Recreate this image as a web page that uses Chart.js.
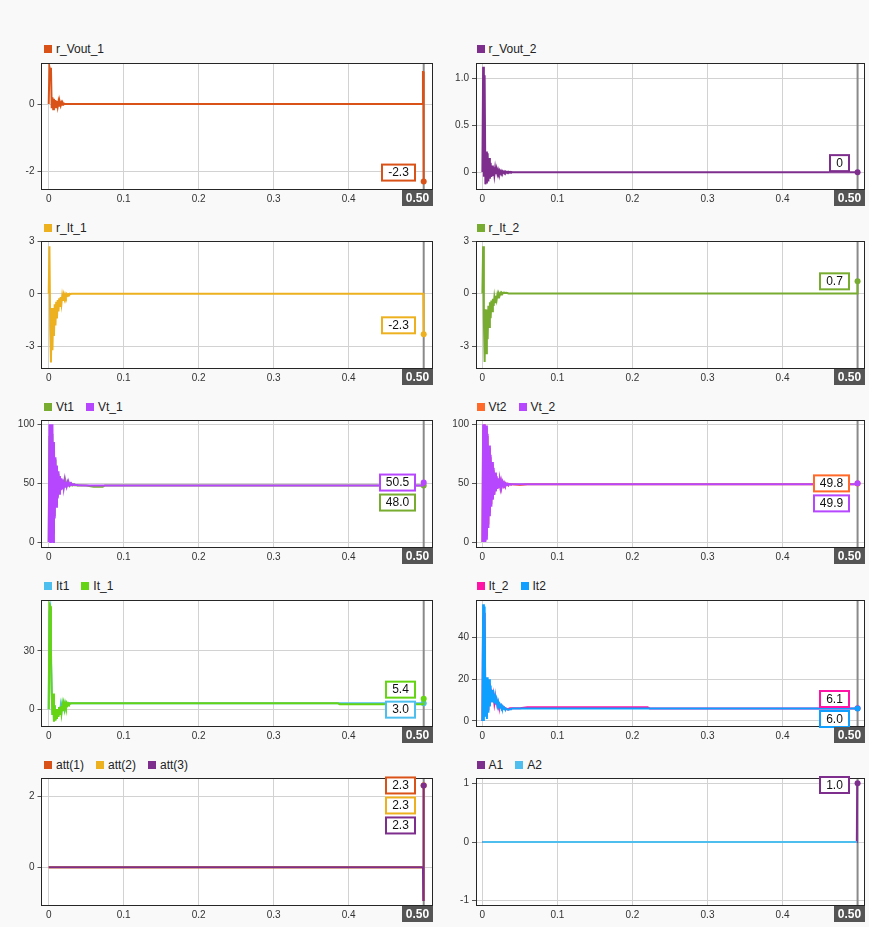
<!DOCTYPE html>
<html>
<head>
<meta charset="utf-8">
<script src="https://cdn.jsdelivr.net/npm/chart.js@4.4.0/dist/chart.umd.min.js"></script>
<style>
  body { margin: 0; background: #f9f9f9; font-family: "Liberation Sans", Arial, Helvetica, sans-serif; }
  #page { position: relative; width: 869px; height: 927px; overflow: hidden; }
  canvas { position: absolute; }
  .legend { position: absolute; font-size: 12px; line-height: 14px; color: #222; white-space: nowrap; }
  .legend .item { display: inline-block; margin-right: 12px; }
  .legend .sw { display: inline-block; width: 8px; height: 8px; margin-right: 4px; vertical-align: 0px; }
</style>
</head>
<body>
<div id="page"></div>
<script>
// --- time bases (s) ---
const tFast = [0, 0.001, 0.002, 0.003, 0.004, 0.005, 0.006, 0.007, 0.008, 0.009,
               0.010, 0.011, 0.012, 0.013, 0.014, 0.015, 0.016, 0.017, 0.018, 0.019,
               0.020, 0.021, 0.022, 0.023, 0.024, 0.025, 0.026, 0.027, 0.028, 0.029,
               0.030, 0.031, 0.032, 0.033, 0.034, 0.035, 0.036, 0.037, 0.038, 0.039,
               0.040];
const tSlow = [0.05, 0.06, 0.072, 0.075, 0.22, 0.223, 0.386, 0.388, 0.4985, 0.499, 0.4995, 0.5];
const tFull = tFast.concat(tSlow);
const tEdge = [0, 0.499, 0.4995, 0.5];
const tA2 = [0, 0.499];
const cursorT = 0.5;

// --- series values (fast part: 41 values, then slow part: 12 values) ---
const rVout1 = [0, 1.1, 1.0, 1.08, -0.12, 0.2, -0.15, 0.16, -0.12, 0.12,
  -0.09, 0.09, -0.07, 0.07, -0.05, 0.05, -0.04, 0.04, -0.02, 0.03,
  -0.01, 0.01, 0, 0, 0, 0, 0, 0, 0, 0,
  0, 0, 0, 0, 0, 0, 0, 0, 0, 0,
  0,
  0, 0, 0, 0, 0, 0, 0, 0, 0, 0.95, 0.95, -2.3];
const rVout2 = [0, 1.12, -0.05, 1.03, -0.13, 0.22, -0.12, 0.2, -0.1, 0.15,
  -0.07, 0.1, -0.05, 0.07, -0.04, 0.05, -0.03, 0.04, -0.02, 0.03,
  -0.015, 0.02, -0.01, 0.015, -0.01, 0.01, -0.008, 0.008, -0.006, 0.006,
  -0.005, 0.005, -0.004, 0.004, -0.003, 0.003, -0.003, 0.003, -0.002, 0.002,
  0,
  0, 0, 0, 0, 0, 0, 0, 0, 0, 0, 0, 0];
const rIt1 = [0, 2.7, -2.0, -3.9, -0.8, -3.2, -0.8, -2.4, -0.6, -1.8,
  -0.45, -1.4, -0.35, -1.0, -0.25, -0.75, -0.18, -0.55, -0.12, -0.4,
  -0.08, -0.28, -0.05, -0.18, -0.03, -0.1, -0.02, -0.05, 0, -0.02,
  0, 0, 0, 0, 0, 0, 0, 0, 0, 0,
  0,
  0, 0, 0, 0, 0, 0, 0, 0, 0, 0, 0, -2.3];
const rIt2 = [0, 2.7, -1.5, -3.9, -0.9, -3.4, -0.9, -2.6, -0.7, -1.9,
  -0.5, -1.4, -0.4, -1.0, -0.3, -0.7, -0.2, -0.5, -0.12, -0.35,
  -0.06, -0.22, -0.02, -0.12, 0.02, -0.05, 0.04, 0, 0.05, 0.03,
  0.05, 0.04, 0.05, 0.03, 0.02, 0.01, 0, 0, 0, 0,
  0,
  0, 0, 0, 0, 0, 0, 0, 0, 0, 0, 0, 0.7];
const vt_1 = [0, 100, 0, 100, 0, 100, 0, 85, 20, 72,
  30, 65, 37, 60, 41, 56, 44, 54, 45.5, 53,
  46.5, 52, 47, 51, 47.5, 50.5, 48, 50, 48.2, 49.5,
  48.4, 49.2, 48.5, 48.9, 48.6, 48.7, 48.5, 48.5, 48.4, 48.3,
  48.3,
  48.1, 48, 48, 48, 48, 48, 48, 48, 48, 48, 48, 50.5];
const vt1 = [0, 90, 5, 95, 3, 92, 8, 80, 22, 70,
  32, 63, 38, 58, 42, 55, 44, 53, 46, 52,
  47, 51, 47.5, 50.5, 47.8, 50, 48, 49.6, 48.1, 49.3,
  48.2, 49, 48.2, 48.8, 48.2, 48.6, 48.2, 48.4, 48.1, 48.2,
  48.1,
  48, 46.9, 46.9, 48, 48, 48, 48, 48, 48, 48, 48, 48.0];
const vt_2 = [0, 100, 0, 100, 0, 99, 2, 92, 12, 82,
  22, 74, 30, 68, 36, 63, 40, 59, 43, 56,
  45, 54, 46, 52.5, 47, 51.5, 47.8, 50.8, 48.2, 50.2,
  48.5, 49.8, 48.7, 49.5, 48.8, 49.3, 48.9, 49.2, 49, 49.1,
  49,
  49.1, 49.1, 49.1, 49.1, 49.1, 49.1, 49.1, 49.1, 49.1, 49.1, 49.1, 49.9];
const vt2 = [0, 95, 3, 100, 1, 97, 5, 90, 15, 80,
  25, 72, 32, 66, 37, 61, 41, 58, 43.5, 55,
  45, 53.5, 46, 52, 47, 51, 47.8, 50.4, 48.2, 50,
  48.5, 49.7, 48.7, 49.5, 48.8, 49.3, 48.9, 49.2, 49, 49.1,
  49,
  48.4, 49.1, 49.1, 49.1, 49.1, 49.1, 49.1, 49.1, 49.1, 49.1, 49.1, 49.8];
const it_1 = [0, 54, 53, 30, 9, -3, 8, -6.5, 2, -6,
  0, -5, 0, -4, 1, -3, 1.5, -2, 2, -1,
  2.5, 0, 2.8, 1, 3, 2, 3, 2.5, 3, 2.8,
  3, 3, 3, 3, 3, 3, 3, 3, 3, 3,
  3,
  3, 3, 3, 3, 3, 3, 3, 2.5, 2.5, 2.5, 2.5, 5.4];
const it1 = [0, 50, 52, 25, 8, -3, 7, -6, 2, -5.5,
  0, -4.5, 0, -3.5, 1, -2.5, 1.5, -1.5, 2, -0.5,
  2.5, 0.5, 2.8, 1.5, 3, 2.2, 3, 2.6, 3, 2.9,
  3, 3, 3, 3, 3, 3, 3, 3, 3, 3,
  3,
  3, 3, 3, 3, 3, 3, 3, 3, 3, 3, 3, 3.0];
const it2 = [0, 56, 0, 55, 2, 21, 1, 21, 4, 20,
  7, 17, 9, 15, 9, 13, 8.5, 11.5, 8, 10,
  7.5, 9, 7, 8, 6.8, 7.5, 6.3, 7, 6, 6.4,
  5.8, 6, 5.6, 5.6, 5.5, 5.5, 5.5, 5.6, 5.8, 5.9,
  6,
  6, 6, 6, 6, 6, 6, 6, 6, 6, 6, 6, 6.0];
const it_2 = [0, 50, 3, 52, 3, 20, 2, 19, 5, 18,
  7.5, 15.5, 9, 14, 9, 12, 8.5, 11, 8, 9.8,
  7.6, 8.8, 7.2, 7.9, 6.9, 7.4, 6.5, 7, 6.2, 6.5,
  6, 6.1, 5.8, 5.8, 5.7, 5.8, 6, 6.1, 6.1, 6.1,
  6.1,
  6.1, 6.6, 6.6, 6.6, 6.6, 6.0, 6.0, 6.0, 6.0, 6.0, 6.0, 6.1];
const att1 = [0, 0, -0.92, 2.3];
const att2 = [0, 0, -0.92, 2.3];
const att3 = [0, 0, -0.92, 2.3];
const a1 = [0, 0, 1, 1];
const a2 = [0, 0];

// --- tick values / labels ---
const xTicks = [0, 0.1, 0.2, 0.3, 0.4, 0.5];
const xTickLabels = ['0', '0.1', '0.2', '0.3', '0.4', '0.5'];
const yTicksVout1 = [-2, 0], yLabelsVout1 = ['-2', '0'];
const yTicksVout2 = [0, 0.5, 1], yLabelsVout2 = ['0', '0.5', '1.0'];
const yTicksIt = [-3, 0, 3], yLabelsIt = ['-3', '0', '3'];
const yTicksVt = [0, 50, 100], yLabelsVt = ['0', '50', '100'];
const yTicksIt1 = [0, 30], yLabelsIt1 = ['0', '30'];
const yTicksIt2 = [0, 20, 40], yLabelsIt2 = ['0', '20', '40'];
const yTicksAtt = [0, 2], yLabelsAtt = ['0', '2'];
const yTicksA = [-1, 0, 1], yLabelsA = ['-1', '0', '1'];

// --- signals ---
const signals = {
  'r_Vout_1': { color: '#d95319', t: tFull, y: rVout1 },
  'r_Vout_2': { color: '#7e2f8e', t: tFull, y: rVout2 },
  'r_It_1':   { color: '#edb120', t: tFull, y: rIt1 },
  'r_It_2':   { color: '#77ac30', t: tFull, y: rIt2 },
  'Vt1':      { color: '#77ac30', t: tFull, y: vt1 },
  'Vt_1':     { color: '#b746ff', t: tFull, y: vt_1 },
  'Vt2':      { color: '#ff6929', t: tFull, y: vt2 },
  'Vt_2':     { color: '#b746ff', t: tFull, y: vt_2 },
  'It1':      { color: '#4dbeee', t: tFull, y: it1 },
  'It_1':     { color: '#64d413', t: tFull, y: it_1 },
  'It_2':     { color: '#ff13a6', t: tFull, y: it_2 },
  'It2':      { color: '#0fa0ff', t: tFull, y: it2 },
  'att(1)':   { color: '#d95319', t: tEdge, y: att1 },
  'att(2)':   { color: '#edb120', t: tEdge, y: att2 },
  'att(3)':   { color: '#7e2f8e', t: tEdge, y: att3 },
  'A1':       { color: '#7e2f8e', t: tEdge, y: a1 },
  'A2':       { color: '#4dbeee', t: tA2, y: a2 }
};

const FONT = '"Liberation Sans", Arial, Helvetica, sans-serif';
Chart.defaults.font.family = FONT;

const cols = [
  { left: 0, width: 437, axisW: 41.5, legendX: 44, xMin: -0.0096, xMax: 0.5124 },
  { left: 437, width: 432, axisW: 39, legendX: 476.5, xMin: -0.0085, xMax: 0.5099 }
];
const rows = [
  { top: 62, bottom: 190, legendY: 49 },
  { top: 240, bottom: 369, legendY: 228 },
  { top: 419, bottom: 548, legendY: 407 },
  { top: 599, bottom: 727, legendY: 586 },
  { top: 777, bottom: 906, legendY: 765 }
];

// stack: first entry is drawn on top
const panels = [
  { row: 0, col: 0, legend: ['r_Vout_1'], stack: ['r_Vout_1'], labels: ['r_Vout_1'], yMin: -2.55, yMax: 1.22, yTicks: yTicksVout1, yLabels: yLabelsVout1, shift: -9 },
  { row: 0, col: 1, legend: ['r_Vout_2'], stack: ['r_Vout_2'], labels: ['r_Vout_2'], yMin: -0.19, yMax: 1.16, yTicks: yTicksVout2, yLabels: yLabelsVout2, shift: -9 },
  { row: 1, col: 0, legend: ['r_It_1'], stack: ['r_It_1'], labels: ['r_It_1'], yMin: -4.27, yMax: 3.0, yTicks: yTicksIt, yLabels: yLabelsIt, shift: -9 },
  { row: 1, col: 1, legend: ['r_It_2'], stack: ['r_It_2'], labels: ['r_It_2'], yMin: -4.3, yMax: 3.0, yTicks: yTicksIt, yLabels: yLabelsIt, shift: 0 },
  { row: 2, col: 0, legend: ['Vt1', 'Vt_1'], stack: ['Vt_1', 'Vt1'], labels: ['Vt_1', 'Vt1'], yMin: -5.05, yMax: 103.6, yTicks: yTicksVt, yLabels: yLabelsVt, shift: 0 },
  { row: 2, col: 1, legend: ['Vt2', 'Vt_2'], stack: ['Vt_2', 'Vt2'], labels: ['Vt2', 'Vt_2'], yMin: -5.05, yMax: 103.6, yTicks: yTicksVt, yLabels: yLabelsVt, shift: 0 },
  { row: 3, col: 0, legend: ['It1', 'It_1'], stack: ['It_1', 'It1'], labels: ['It_1', 'It1'], yMin: -9.2, yMax: 56.2, yTicks: yTicksIt1, yLabels: yLabelsIt1, shift: -9 },
  { row: 3, col: 1, legend: ['It_2', 'It2'], stack: ['It2', 'It_2'], labels: ['It_2', 'It2'], yMin: -2.9, yMax: 58.1, yTicks: yTicksIt2, yLabels: yLabelsIt2, shift: -9 },
  { row: 4, col: 0, legend: ['att(1)', 'att(2)', 'att(3)'], stack: ['att(3)', 'att(2)', 'att(1)'], labels: ['att(1)', 'att(2)', 'att(3)'], yMin: -1.09, yMax: 2.51, yTicks: yTicksAtt, yLabels: yLabelsAtt, shift: 0 },
  { row: 4, col: 1, legend: ['A1', 'A2'], stack: ['A2', 'A1'], labels: ['A1'], yMin: -1.09, yMax: 1.09, yTicks: yTicksA, yLabels: yLabelsA, shift: 0 }
];

function fmt(v) { return v === 0 ? '0' : v.toFixed(1); }

function overlay(p) {
  return {
    id: 'overlay',
    beforeDraw(chart) {
      const { ctx, chartArea: a } = chart;
      ctx.save();
      ctx.fillStyle = '#ffffff';
      ctx.fillRect(a.left, a.top, a.right - a.left, a.bottom - a.top);
      ctx.restore();
    },
    beforeDatasetsDraw(chart) {
      const { ctx, chartArea: a } = chart;
      const cx = chart.scales.x.getPixelForValue(cursorT);
      ctx.save();
      ctx.strokeStyle = '#8a8a8a';
      ctx.lineWidth = 2;
      ctx.beginPath();
      ctx.moveTo(cx, a.top);
      ctx.lineTo(cx, a.bottom);
      ctx.stroke();
      ctx.restore();
    },
    afterDraw(chart) {
      const { ctx, chartArea: a } = chart;
      const xs = chart.scales.x, ys = chart.scales.y;
      const cx = xs.getPixelForValue(cursorT);
      ctx.save();
      // frame
      ctx.strokeStyle = '#262626';
      ctx.lineWidth = 1;
      const l = Math.floor(a.left) + 0.5, t = Math.floor(a.top) + 0.5;
      ctx.strokeRect(l, t, Math.floor(a.right) - 0.5 - l, Math.floor(a.bottom) - 0.5 - t);

      // value labels at the cursor
      const items = p.labels.map(name => {
        const s = signals[name];
        const v = s.y[s.y.length - 1];
        return { text: fmt(v), color: s.color, py: ys.getPixelForValue(v) };
      });
      const h = 18, gap = 2;
      const total = items.length * h + (items.length - 1) * gap;
      let top = items[0].py - h / 2 + p.shift;
      top = Math.max(a.top - 2, Math.min(top, a.bottom + 1 - total));
      ctx.font = '12px ' + FONT;
      ctx.textAlign = 'center';
      ctx.textBaseline = 'middle';
      items.forEach((it, k) => {
        const y0 = top + k * (h + gap);
        const w = Math.round(ctx.measureText(it.text).width) + 14;
        const x0 = Math.round(cx - 8 - w);
        ctx.fillStyle = '#ffffff';
        ctx.fillRect(x0, y0, w, h);
        ctx.strokeStyle = it.color;
        ctx.lineWidth = 2;
        ctx.strokeRect(x0 + 1, y0 + 1, w - 2, h - 2);
        ctx.fillStyle = '#111';
        ctx.fillText(it.text, x0 + w / 2, y0 + h / 2 + 0.5);
      });

      // cursor time badge
      ctx.font = 'bold 12px ' + FONT;
      const txt = cursorT.toFixed(2);
      const bw = Math.round(ctx.measureText(txt).width) + 8;
      const bx = Math.round(a.right) - bw;
      const by = Math.round(a.bottom);
      ctx.fillStyle = '#555555';
      ctx.fillRect(bx, by, bw, 16);
      ctx.fillStyle = '#ffffff';
      ctx.fillText(txt, bx + bw / 2, by + 8.5);
      ctx.restore();
    }
  };
}

const page = document.getElementById('page');

panels.forEach(p => {
  const c = cols[p.col], r = rows[p.row];
  const padTop = 8, axisH = 20;
  const height = r.bottom - r.top + padTop + axisH;

  // legend
  const lg = document.createElement('div');
  lg.className = 'legend';
  lg.style.left = c.legendX + 'px';
  lg.style.top = (r.legendY - 7) + 'px';
  p.legend.forEach(name => {
    const item = document.createElement('span');
    item.className = 'item';
    const sw = document.createElement('span');
    sw.className = 'sw';
    sw.style.background = signals[name].color;
    item.appendChild(sw);
    item.appendChild(document.createTextNode(name));
    lg.appendChild(item);
  });
  page.appendChild(lg);

  const cv = document.createElement('canvas');
  cv.width = c.width;
  cv.height = height;
  cv.style.left = c.left + 'px';
  cv.style.top = (r.top - padTop) + 'px';
  cv.style.width = c.width + 'px';
  cv.style.height = height + 'px';
  page.appendChild(cv);

  const datasets = p.stack.map(name => {
    const s = signals[name];
    const n = s.t.length;
    const endsAtCursor = s.t[n - 1] === cursorT;
    return {
      label: name,
      data: s.t.map((t, i) => ({ x: t, y: s.y[i] })),
      borderColor: s.color,
      backgroundColor: s.color,
      borderWidth: 2,
      pointRadius: ctx => (endsAtCursor && ctx.dataIndex === n - 1) ? 3 : 0,
      pointBorderWidth: 0,
      pointBackgroundColor: s.color,
      tension: 0
    };
  });

  new Chart(cv.getContext('2d'), {
    type: 'line',
    data: { datasets },
    options: {
      animation: false,
      responsive: false,
      maintainAspectRatio: false,
      layout: { padding: { top: padTop, right: 3, left: 0, bottom: 0 } },
      plugins: { legend: { display: false }, tooltip: { enabled: false } },
      scales: {
        x: {
          type: 'linear',
          min: c.xMin,
          max: c.xMax,
          afterFit: s => { s.height = axisH; },
          afterBuildTicks: s => { s.ticks = xTicks.map(v => ({ value: v })); },
          grid: { color: '#d2d2d2', lineWidth: 1, drawTicks: false },
          border: { display: false },
          ticks: {
            padding: 3, color: '#333', font: { size: 10 }, maxRotation: 0, autoSkip: false,
            callback: v => xTickLabels[xTicks.indexOf(v)]
          }
        },
        y: {
          type: 'linear',
          min: p.yMin,
          max: p.yMax,
          afterFit: s => { s.width = c.axisW; },
          afterBuildTicks: s => { s.ticks = p.yTicks.map(v => ({ value: v })); },
          grid: { color: '#d2d2d2', lineWidth: 1, tickLength: 4, tickColor: '#555' },
          border: { display: false },
          ticks: {
            padding: 3, color: '#333', font: { size: 10 }, autoSkip: false,
            callback: v => p.yLabels[p.yTicks.indexOf(v)]
          }
        }
      }
    },
    plugins: [overlay(p)]
  });
});
</script>
</body>
</html>
